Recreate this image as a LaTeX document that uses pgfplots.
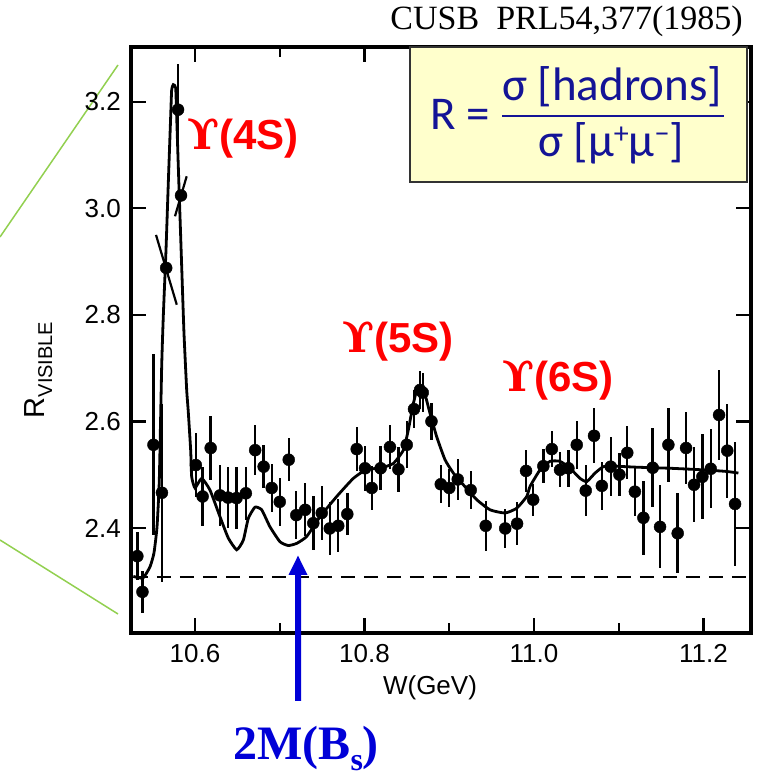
\documentclass[border=0pt]{standalone}
\usepackage{pgfplots}
\pgfplotsset{compat=1.18}
\usepackage{pgfplotstable}
\usepackage{fontspec}
\setmainfont{Liberation Sans}
\newfontfamily\timesf{Liberation Serif}
\newfontfamily\upsf{DejaVu Serif}
\newfontfamily\calib{Carlito}
\definecolor{fblue}{RGB}{20,20,150}
\definecolor{ablue}{RGB}{0,0,215}
\definecolor{boxy}{RGB}{255,255,204}
\definecolor{lgreen}{RGB}{146,208,80}

\pgfplotstableread{
x y e
10.532 2.347 0.045
10.538 2.280 0.040
10.551 2.556 0.170
10.561 2.466 0.167
10.566 2.888 0
10.580 3.185 0.085
10.5835 3.024 0
10.601 2.518 0.060
10.609 2.459 0.055
10.6185 2.550 0.060
10.6295 2.461 0.058
10.639 2.457 0.058
10.649 2.456 0.058
10.660 2.465 0.050
10.671 2.546 0.047
10.681 2.515 0.040
10.6905 2.475 0.045
10.700 2.449 0.045
10.7106 2.528 0.040
10.7195 2.424 0.045
10.730 2.434 0.050
10.7396 2.409 0.050
10.7495 2.428 0.050
10.759 2.399 0.050
10.769 2.404 0.050
10.7797 2.426 0.040
10.7908 2.548 0.042
10.8006 2.512 0.042
10.8085 2.475 0.042
10.819 2.512 0.041
10.830 2.552 0.042
10.840 2.510 0.042
10.8498 2.556 0.044
10.8584 2.623 0.035
10.8655 2.659 0.036
10.8687 2.654 0.036
10.879 2.600 0.035
10.890 2.482 0.036
10.900 2.475 0.036
10.910 2.491 0.039
10.9253 2.471 0.035
10.943 2.404 0.047
10.966 2.399 0.036
10.980 2.408 0.040
10.9906 2.507 0.040
10.999 2.453 0.030
11.011 2.516 0.032
11.021 2.548 0.033
11.0307 2.509 0.033
11.0405 2.512 0.035
11.0504 2.556 0.045
11.061 2.470 0.048
11.0708 2.573 0.052
11.080 2.479 0.045
11.0905 2.515 0.055
11.1007 2.500 0.040
11.110 2.541 0.050
11.119 2.468 0.045
11.129 2.419 0.070
11.140 2.513 0.074
11.1487 2.402 0.078
11.1585 2.556 0.070
11.1695 2.390 0.075
11.1794 2.550 0.067
11.1888 2.481 0.070
11.1986 2.496 0.080
11.2085 2.511 0.074
11.2183 2.612 0.085
11.228 2.545 0.088
11.2372 2.445 0.116
}\datatable

\pgfplotstableread{
x y
10.5272 2.309
10.5386 2.306
10.5469 2.327
10.5516 2.353
10.5552 2.402
10.5579 2.490
10.5607 2.703
10.5626 2.797
10.5658 2.922
10.5685 3.047
10.5713 3.172
10.5725 3.2225
10.5744 3.232
10.5772 3.226
10.5784 3.172
10.5803 3.079
10.5823 2.985
10.5843 2.891
10.5870 2.766
10.5902 2.659
10.5920 2.620
10.5949 2.546
10.5961 2.496
10.6000 2.475
10.6079 2.493
10.6177 2.471
10.6295 2.421
10.6393 2.381
10.6492 2.359
10.6570 2.377
10.6629 2.418
10.6708 2.439
10.6787 2.434
10.6885 2.402
10.7003 2.374
10.7101 2.367
10.7200 2.371
10.7318 2.384
10.7475 2.421
10.7672 2.459
10.7868 2.493
10.8026 2.510
10.8183 2.512
10.8340 2.521
10.8458 2.546
10.8517 2.584
10.8569 2.628
10.8616 2.659
10.8655 2.665
10.8714 2.650
10.8773 2.615
10.8852 2.571
10.8950 2.528
10.9048 2.503
10.9166 2.481
10.9324 2.453
10.9481 2.434
10.9658 2.428
10.9796 2.437
10.9914 2.459
10.9953 2.478
11.0071 2.509
11.0189 2.525
11.0307 2.525
11.0425 2.512
11.0543 2.493
11.0622 2.487
11.0720 2.503
11.0818 2.515
11.0936 2.516
11.1212 2.514
11.1605 2.512
11.1998 2.509
11.2274 2.506
11.2411 2.503
}\fittable

\begin{document}
\begin{tikzpicture}
\useasboundingbox (0,0) rectangle (760pt,778pt);
% green guide lines
\draw[lgreen, line width=1.5pt] (0pt,541pt) -- (118pt,713pt);
\draw[lgreen, line width=1.5pt] (0pt,238pt) -- (118pt,164pt);
\begin{axis}[
  at={(131pt,145pt)}, anchor=south west,
  width=620pt, height=586pt, scale only axis,
  xmin=10.5245, xmax=11.256, ymin=2.2028, ymax=3.3027,
  axis line style={line width=3.8pt},
  tick align=inside,
  major tick length=15pt, minor tick length=10pt,
  major tick style={line width=2.4pt, black},
  minor tick style={line width=2.4pt, black},
  xtick={10.6,10.8,11.0,11.2}, minor xtick={10.7,10.9,11.1},
  xticklabels={10.6,10.8,11.0,11.2},
  ytick={2.4,2.6,2.8,3.0,3.2}, minor ytick={},
  yticklabels={2.4,2.6,2.8,3.0,3.2},
  ticklabel style={font=\fontsize{26}{26}\selectfont, inner sep=0pt},
  xticklabel style={yshift=-11pt},
  yticklabel style={xshift=-10pt},
  clip=false,
]
% dashed baseline
\addplot[black, line width=1.8pt, dash pattern=on 14pt off 9pt] coordinates {(10.528,2.308) (11.256,2.308)};
% fit curve
\addplot[black, line width=2.8pt, smooth, tension=0.3] table[x=x,y=y] {\fittable};
% slanted error bars on the steep rise
\addplot[black, line width=2.2pt] coordinates {(10.554,2.950) (10.5785,2.819)};
\addplot[black, line width=2.2pt] coordinates {(10.5764,2.985) (10.5902,3.060)};
% data
\addplot[only marks, mark=*, mark size=6pt, black, mark options={fill=black},
  error bars/.cd, y dir=both, y explicit, error mark=none,
  error bar style={line width=2.4pt, black}]
  table[x=x, y=y, y error=e] {\datatable};
\end{axis}
% formula box
\filldraw[fill=boxy, draw=black!80, line width=1.5pt] (410pt,596pt) rectangle (747pt,731pt);
\node[anchor=base west, text=fblue, font=\calib\fontsize{47}{47}\selectfont, inner sep=0pt] at (430pt,648pt) {R =};
\node[anchor=base, text=fblue, font=\calib\fontsize{47}{47}\selectfont, inner sep=0pt] at (612pt,677pt) {σ [hadrons]};
\draw[fblue, line width=2.5pt] (502pt,662pt) -- (724pt,662pt);
\node[anchor=base, text=fblue, font=\calib\fontsize{47}{47}\selectfont, inner sep=0pt] at (611pt,621pt) {σ [μ\raisebox{13pt}{\fontsize{30}{30}\selectfont +}μ\raisebox{13pt}{\fontsize{30}{30}\selectfont −}]};
% reference
\node[anchor=base east, font=\timesf\fontsize{34}{34}\selectfont, inner sep=0pt] at (743pt,748pt) {CUSB\ \ PRL54,377(1985)};
% resonance labels
\node[anchor=base west, text=red, font=\bfseries\fontsize{42}{42}\selectfont, inner sep=0pt] at (187pt,628pt) {{\upsf ϒ}(4S)};
\node[anchor=base west, text=red, font=\bfseries\fontsize{42}{42}\selectfont, inner sep=0pt] at (342pt,425pt) {{\upsf ϒ}(5S)};
\node[anchor=base west, text=red, font=\bfseries\fontsize{42}{42}\selectfont, inner sep=0pt] at (502pt,386pt) {{\upsf ϒ}(6S)};
% axis labels
\node[anchor=base, font=\fontsize{26}{26}\selectfont, inner sep=0pt] at (430pt,83pt) {W(GeV)};
\node[anchor=base, rotate=90, inner sep=0pt] at (44pt,408pt) {\fontsize{29}{29}\selectfont R\raisebox{-8pt}{\fontsize{20}{20}\selectfont VISIBLE}};
% blue arrow
\fill[ablue] (295pt,77pt) -- (295pt,203pt) -- (288.5pt,203pt) -- (298pt,222.3pt) -- (307.5pt,203pt) -- (301pt,203pt) -- (301pt,77pt) -- cycle;
\node[anchor=base west, text=ablue, font=\timesf\bfseries\fontsize{48}{48}\selectfont, inner sep=0pt] at (233pt,18pt) {2M(B\raisebox{-10pt}{\fontsize{32}{32}\selectfont s})};
\end{tikzpicture}
\end{document}
